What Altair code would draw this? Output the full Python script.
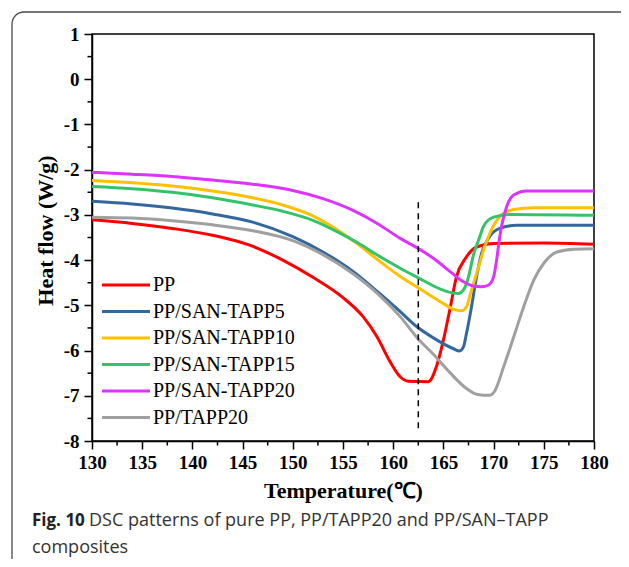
import altair as alt
import pandas as pd

# ---- data ----
series_names = ["PP", "PP/SAN-TAPP5", "PP/SAN-TAPP10", "PP/SAN-TAPP15", "PP/SAN-TAPP20", "PP/TAPP20"]
series_colors = ["#FF0000", "#33689F", "#FFC000", "#33C46A", "#DD33FF", "#A0A0A0"]

temp_pp = [130, 134, 138, 142, 145.7, 149, 152, 155, 157, 158.4, 159.7, 160.7, 161.5, 163.5, 164.3, 165.0, 165.7, 166.3, 167.2, 168.3, 170.0, 175.0, 180.0]
flow_pp = [-3.11, -3.19, -3.30, -3.45, -3.67, -4.00, -4.38, -4.83, -5.25, -5.70, -6.25, -6.58, -6.68, -6.69, -6.36, -5.77, -5.03, -4.37, -3.96, -3.71, -3.63, -3.62, -3.65]

temp_s5 = [130, 134, 138, 142, 146, 150, 153, 156, 158.5, 160.7, 162.4, 164, 166, 166.6, 167.0, 167.3, 167.8, 168.3, 168.8, 169.6, 170.6, 172.3, 180]
flow_s5 = [-2.70, -2.76, -2.85, -2.98, -3.16, -3.48, -3.82, -4.25, -4.71, -5.14, -5.48, -5.72, -5.96, -6.01, -5.92, -5.62, -5.03, -4.37, -3.85, -3.48, -3.30, -3.23, -3.23]

temp_s10 = [130, 134, 138, 142, 146, 149, 152, 154.5, 156.8, 158.5, 160.7, 162.4, 164.7, 166.2, 166.8, 167.3, 167.8, 168.5, 169.1, 170.6, 172.0, 174, 180]
flow_s10 = [-2.24, -2.29, -2.36, -2.47, -2.62, -2.78, -3.02, -3.34, -3.70, -4.00, -4.36, -4.60, -4.92, -5.10, -5.12, -5.03, -4.66, -4.15, -3.71, -3.04, -2.88, -2.84, -2.84]

temp_s15 = [130, 134, 138, 142, 146, 149, 152, 154.5, 156.8, 158.5, 160.7, 162.4, 164.7, 166.0, 166.5, 167.0, 167.5, 168.0, 168.6, 169.0, 170.0, 171.6, 180]
flow_s15 = [-2.37, -2.42, -2.50, -2.62, -2.78, -2.92, -3.12, -3.38, -3.66, -3.90, -4.18, -4.38, -4.64, -4.73, -4.74, -4.66, -4.37, -3.88, -3.50, -3.25, -3.05, -2.99, -3.01]

temp_s20 = [130, 134, 138, 142, 146, 150, 153, 156, 158.5, 160.7, 162.4, 164.0, 165.7, 167.0, 168.1, 168.8, 169.5, 170.0, 170.3, 170.6, 171.3, 172.0, 173.3, 180]
flow_s20 = [-2.06, -2.10, -2.15, -2.23, -2.32, -2.46, -2.64, -2.90, -3.20, -3.52, -3.73, -3.96, -4.26, -4.48, -4.58, -4.59, -4.55, -4.37, -4.00, -3.50, -2.82, -2.56, -2.47, -2.47]

temp_t20 = [130, 134, 138, 142, 146, 150, 153, 156, 158.5, 160.7, 162.4, 164.0, 165.7, 167.3, 168.4, 169.6, 170.1, 171.0, 172.0, 173.0, 174.0, 175.0, 176.3, 178.0, 180]
flow_t20 = [-3.05, -3.07, -3.13, -3.22, -3.35, -3.57, -3.88, -4.30, -4.75, -5.25, -5.72, -6.08, -6.50, -6.84, -6.97, -6.99, -6.90, -6.36, -5.70, -5.03, -4.44, -4.07, -3.82, -3.76, -3.75]

x_major = [130, 135, 140, 145, 150, 155, 160, 165, 170, 175, 180]
x_minor = [132.5, 137.5, 142.5, 147.5, 152.5, 157.5, 162.5, 167.5, 172.5, 177.5]
y_major = [-8, -7, -6, -5, -4, -3, -2, -1, 0, 1]
y_minor = [-7.5, -6.5, -5.5, -4.5, -3.5, -2.5, -1.5, -0.5, 0.5]

dash_x = [162.5]
dash_top = [-2.72]
dash_bottom = [-7.76]

caption_bold = "Fig. 10"
caption_line1 = "DSC patterns of pure PP, PP/TAPP20 and PP/SAN\u2013TAPP"
caption_line2 = "composites"

# ---- build tables ----
temps = [temp_pp, temp_s5, temp_s10, temp_s15, temp_s20, temp_t20]
flows = [flow_pp, flow_s5, flow_s10, flow_s15, flow_s20, flow_t20]
rows = []
for name, ts, fs in zip(series_names, temps, flows):
    for t, f in zip(ts, fs):
        rows.append({"T": t, "H": f, "sample": name})
df = pd.DataFrame(rows)

W, H = 502, 407
SERIF = "Liberation Serif"

xscale = alt.Scale(domain=[130, 180], nice=False, zero=False)
yscale = alt.Scale(domain=[-8, 1], nice=False, zero=False)

dummy = pd.DataFrame({"k": [0]})

border = alt.Chart(dummy).mark_rect(
    fill=None, stroke="#4a4a4a", strokeWidth=1.3, cornerRadius=12, clip=False
).encode(
    x=alt.value(-80), x2=alt.value(560), y=alt.value(-22), y2=alt.value(560)
)

lines = alt.Chart(df).mark_line(strokeWidth=3, interpolate="monotone").encode(
    x=alt.X("T:Q", scale=xscale,
            axis=alt.Axis(values=x_major, format="d", title="Temperature(\u2103)",
                          labelFlush=False, labelOverlap=False,
                          titleY=56, titleBaseline="alphabetic")),
    y=alt.Y("H:Q", scale=yscale,
            axis=alt.Axis(values=y_major, labelExpr="datum.value + ''", title="Heat flow (W/g)",
                          labelFlush=False, labelOverlap=False,
                          titleX=-47, titleY=196, titleBaseline="middle", titleAngle=-90)),
    color=alt.Color("sample:N", sort=series_names,
                    scale=alt.Scale(domain=series_names, range=series_colors),
                    legend=alt.Legend(orient="none", legendX=0, legendY=241, title=None,
                                      symbolType="M0,0H8", symbolSize=144, symbolStrokeWidth=3,
                                      labelFont=SERIF, labelFontSize=20, labelColor="black",
                                      labelOffset=41, rowPadding=6.5, padding=0)),
    detail="sample:N",
)

dash_df = pd.DataFrame({"x": dash_x, "y": dash_top, "y2": dash_bottom})
dash = alt.Chart(dash_df).mark_rule(color="black", strokeWidth=1.5, strokeDash=[6, 5]).encode(
    x=alt.X("x:Q", scale=xscale), y=alt.Y("y:Q", scale=yscale), y2="y2:Q"
)

xminor_df = pd.DataFrame({"x": x_minor})
xminor = alt.Chart(xminor_df).mark_rule(color="black", strokeWidth=1.5, clip=False).encode(
    x=alt.X("x:Q", scale=xscale), y=alt.value(H), y2=alt.value(H + 4.5)
)
yminor_df = pd.DataFrame({"y": y_minor})
yminor = alt.Chart(yminor_df).mark_rule(color="black", strokeWidth=1.5, clip=False).encode(
    y=alt.Y("y:Q", scale=yscale), x=alt.value(-4.5), x2=alt.value(0)
)

CAP_FONT = "Open Sans"
cap_b = alt.Chart(dummy).mark_text(
    text=caption_bold, font=CAP_FONT, fontWeight="bold", fontSize=17, align="left",
    baseline="alphabetic", color="#222222"
).encode(x=alt.value(-60), y=alt.value(492))
cap_1 = alt.Chart(dummy).mark_text(
    text=caption_line1, font=CAP_FONT, fontSize=18, align="left",
    baseline="alphabetic", color="#333333"
).encode(x=alt.value(-3), y=alt.value(492))
cap_2 = alt.Chart(dummy).mark_text(
    text=caption_line2, font=CAP_FONT, fontSize=18, align="left",
    baseline="alphabetic", color="#333333"
).encode(x=alt.value(-60), y=alt.value(519))

chart = alt.layer(border, lines, dash, xminor, yminor, cap_b, cap_1, cap_2).properties(
    width=W, height=H,
    padding={"left": 84, "top": 26, "right": 27, "bottom": 118},
    autosize="none",
).configure_view(
    stroke="black", strokeWidth=1.5
).configure_axis(
    grid=False, domainColor="black", domainWidth=1.5, tickColor="black", tickWidth=1.5,
    tickSize=8, labelFont=SERIF, labelFontWeight="bold", labelFontSize=19, labelColor="black",
    labelPadding=4, titleFont=SERIF, titleFontWeight="bold", titleFontSize=22, titleColor="black"
).configure_axisY(
    labelPadding=5
)

chart.save("out.html", embed_options={"renderer": "svg", "actions": False})
